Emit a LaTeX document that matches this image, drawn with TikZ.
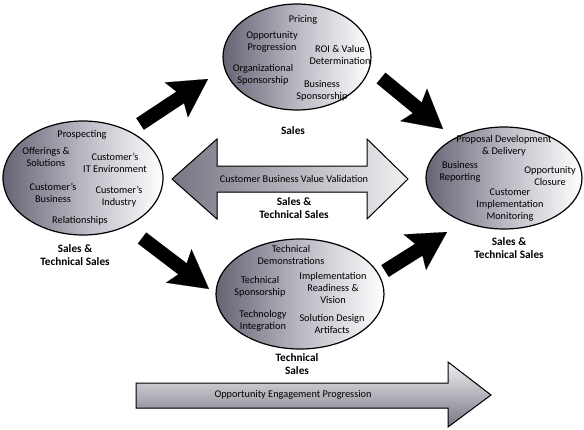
\documentclass[tikz,border=0pt]{standalone}
\usepackage{fontspec}
\setmainfont{Carlito}
\usetikzlibrary{shapes.geometric,arrows.meta}
\definecolor{shadedark}{RGB}{100,100,116}
\definecolor{shademid}{RGB}{185,185,195}
\definecolor{arrowdark}{RGB}{118,118,132}
\definecolor{arrowlight}{RGB}{240,240,242}

\begin{document}
\begin{tikzpicture}[x=1pt,y=-1pt]
	\useasboundingbox (0,0) rectangle (584,429);
	\begin{scope}[every node/.style={ellipse, draw=black, line width=1.2pt, left color=shadedark, right color=white, middle color=shademid}]
		\node (prep) at (83,178) [minimum width=160pt, minimum height=114pt] {};
		\node (sales) at (297,57) [minimum width=148pt, minimum height=106pt] {};
		\node (close) at (504,178) [minimum width=156pt, minimum height=102pt] {};
		\node (tech) at (300,294) [minimum width=168pt, minimum height=110pt] {};
	\end{scope}
	% grey arrows
	\filldraw[draw=black, line width=1pt, left color=arrowdark, right color=arrowlight]
		(172,179) -- (217,139) -- (217,166) -- (367,166) -- (367,139) -- (408,179)
		-- (367,219) -- (367,192) -- (217,192) -- (217,219) -- cycle;
	\filldraw[draw=black, line width=1pt, top color=arrowlight, bottom color=arrowdark]
		(136,383) -- (448,383) -- (448,362) -- (491,395) -- (448,427) -- (448,408)
		-- (136,408) -- cycle;
	\coordinate (p1) at (140,124);
	\coordinate (q1) at (208,79);
	\coordinate (p2) at (381,78);
	\coordinate (q2) at (443,129);
	\coordinate (p3) at (142,238);
	\coordinate (q3) at (209,289);
	\coordinate (p4) at (385,271);
	\coordinate (q4) at (447,232);
	\begin{scope}[every edge/.style={draw=black, line width=14pt, -{Stealth[length=38pt, width=42pt, inset=7pt, line width=0.1pt]}}]
		\path (p1) edge (q1);
		\path (p2) edge (q2);
		\path (p3) edge (q3);
		\path (p4) edge (q4);
	\end{scope}
	\begin{scope}[every node/.style={align=center, inner sep=0pt, font=\fontsize{10.3}{12}\selectfont}]
		\node (prospect) at (82,135) {Prospecting};
		\node (offer) at (46,157) {Offerings \&\\Solutions};
		\node (itenv) at (115,163) {Customer's\\IT Environment};
		\node (busi) at (53,193) {Customer's\\Business};
		\node (indus) at (119,197) {Customer's\\Industry};
		\node (relat) at (80,221) {Relationships};
		\node (price) at (303,20) {Pricing};
		\node (oppprog) at (272,42) {Opportunity\\Progression};
		\node (roi) at (340,55) {ROI \& Value\\Determination};
		\node (orgspon) at (263,75) {Organizational\\Sponsorship};
		\node (busspon) at (322,91) {Business\\Sponsorship};
		\node (propdev) at (504,146) {Proposal Development\\\& Delivery};
		\node (report) at (460,172) {Business\\Reporting};
		\node (oppclose) at (550,176) {Opportunity\\Closure};
		\node (monitor) at (510,205) {Customer\\Implementation\\Monitoring};
		\node (demo) at (291,255) {Technical\\Demonstrations};
		\node (techspon) at (260,287) {Technical\\Sponsorship};
		\node (ready) at (333,288) {Implementation\\Readiness \&\\Vision};
		\node (integ) at (263,321) {Technology\\Integration};
		\node (design) at (332,324) {Solution Design\\Artifacts};
		\node (valid) at (294,179) {Customer Business Value Validation};
		\node (engage) at (293,395) {Opportunity Engagement Progression};
	\end{scope}
	\begin{scope}[every node/.style={align=center, inner sep=0pt, font=\bfseries\fontsize{11.3}{13}\selectfont}]
		\node (prepteam) at (75,255) {Sales \&\\Technical Sales};
		\node (salesteam) at (293,131) {Sales};
		\node (valteam) at (294,208) {Sales \&\\Technical Sales};
		\node (closeteam) at (509,248) {Sales \&\\Technical Sales};
		\node (techteam) at (297,364) {Technical\\Sales};
	\end{scope}
\end{tikzpicture}
\end{document}
